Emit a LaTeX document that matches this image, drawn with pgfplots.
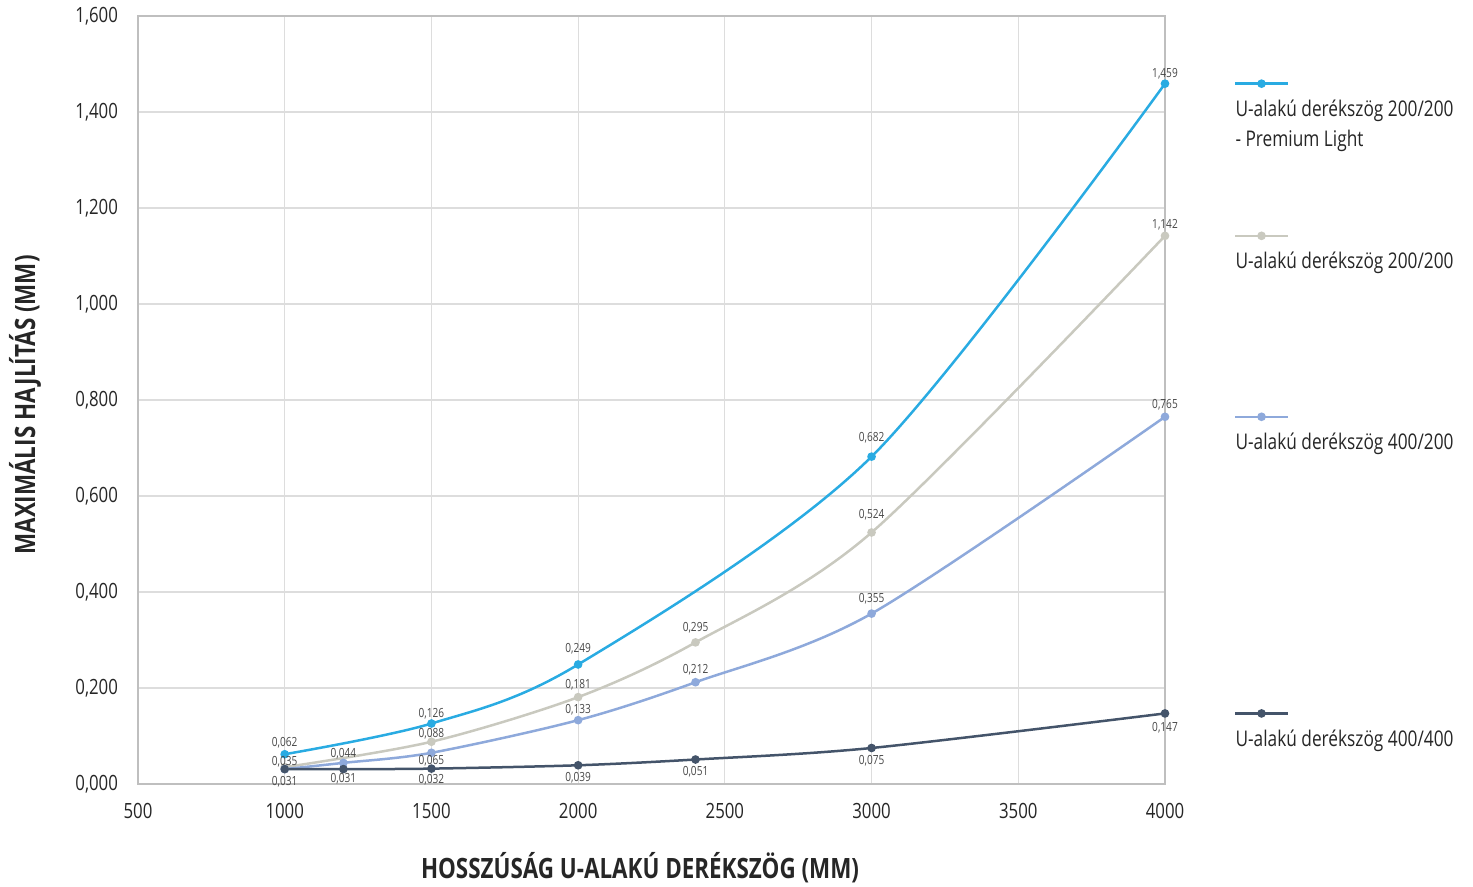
\documentclass[border=0pt]{standalone}
\usepackage{fontspec}
\setmainfont{Open Sans}[FakeStretch=0.8]
\usepackage{pgfplots}
\pgfplotsset{compat=1.18}
\definecolor{cA}{HTML}{29ABE2}
\definecolor{cB}{HTML}{C9C9BF}
\definecolor{cC}{HTML}{8EA9DB}
\definecolor{cD}{HTML}{44546A}
\definecolor{gridc}{HTML}{DDDDDD}
\definecolor{txt}{HTML}{262626}

\pgfplotsset{
  series/.style={
    color=#1, smooth, line width=1.25pt, mark=*, mark size=1.5pt,
    mark options={solid, fill=#1},
    nodes near coords,
    point meta=explicit symbolic,
    visualization depends on={value \thisrow{dy}\as\mydy},
    every node near coord/.append style={font=\fontsize{6.3}{7}\selectfont, text=txt!85, anchor=center, yshift=\mydy pt, inner sep=0pt},
  },
  legline/.style={color=#1, line width=1.25pt, mark=*, mark size=1.5pt, mark options={solid, fill=#1}, mark indices={2}, forget plot},
}

\begin{document}
\begin{tikzpicture}
\useasboundingbox (-69pt,-51.5pt) rectangle (667.5pt,392pt);
\begin{axis}[
  at={(0,0)}, anchor=south west,
  scale only axis, width=513.5pt, height=384pt,
  xmin=500, xmax=4000, ymin=0, ymax=1.6,
  xtick={500,1000,1500,2000,2500,3000,3500,4000},
  ytick={0,0.2,0.4,0.6,0.8,1.0,1.2,1.4,1.6},
  grid=major, major grid style={gridc, line width=0.6pt},
  axis line style={black!25, line width=0.7pt},
  major tick length=0pt,
  clip=false,
  tick label style={font=\fontsize{10.5}{12}\selectfont, text=txt},
  yticklabel style={/pgf/number format/fixed, /pgf/number format/fixed zerofill, /pgf/number format/precision=3, /pgf/number format/use comma, /pgf/number format/assume math mode=true, xshift=-6.5pt},
  xticklabel style={/pgf/number format/1000 sep={}, /pgf/number format/assume math mode=true, yshift=-6pt},
  every axis y label/.style={at={(axis description cs:-0.110,0.4935)}, rotate=90, anchor=center, font=\bfseries\fontsize{14}{16}\selectfont, text=txt},
  every axis x label/.style={at={(axis description cs:0.4888,-0.109)}, anchor=center, font=\bfseries\fontsize{14}{16}\selectfont, text=txt},
  xlabel={HOSSZÚSÁG U-ALAKÚ DERÉKSZÖG (MM)},
  ylabel={MAXIMÁLIS HAJLÍTÁS (MM)},
]
\addplot[series=cA] table[x=x, y=y, meta=lab] {
x y dy lab
1000 0.062 5.5 0,062
1500 0.126 5 0,126
2000 0.249 8 0,249
3000 0.682 9.5 0,682
4000 1.459 5 1,459
};
\addplot[series=cB] table[x=x, y=y, meta=lab] {
x y dy lab
1000 0.035 2.5 0,035
1500 0.088 4 0,088
2000 0.181 6 0,181
2400 0.295 7.5 0,295
3000 0.524 9 0,524
4000 1.142 5.5 1,142
};
\addplot[series=cC] table[x=x, y=y, meta=lab] {
x y dy lab
1000 0.031 0 {}
1200 0.044 4.5 0,044
1500 0.065 -4 0,065
2000 0.133 5 0,133
2400 0.212 6 0,212
3000 0.355 7.5 0,355
4000 0.765 6 0,765
};
\addplot[series=cD] table[x=x, y=y, meta=lab] {
x y dy lab
1000 0.031 -6.5 0,031
1200 0.031 -5 0,031
1500 0.032 -5.5 0,032
2000 0.039 -6 0,039
2400 0.051 -6 0,051
3000 0.075 -6.5 0,075
4000 0.147 -7 0,147
};

\addplot[legline=cA] coordinates {(4239,1.459) (4329,1.459) (4419,1.459)};
\addplot[legline=cB] coordinates {(4239,1.142) (4329,1.142) (4419,1.142)};
\addplot[legline=cC] coordinates {(4239,0.765) (4329,0.765) (4419,0.765)};
\addplot[legline=cD] coordinates {(4239,0.147) (4329,0.147) (4419,0.147)};

\tikzset{legtxt/.style={anchor=base west, inner sep=0pt, font=\fontsize{10.8}{12}\selectfont, text=txt}}
\node[legtxt, yshift=-16.5pt] at (axis cs:4239,1.459) {U-alakú derékszög 200/200};
\node[legtxt, yshift=-31.5pt] at (axis cs:4239,1.459) {- Premium Light};
\node[legtxt, yshift=-16.5pt] at (axis cs:4239,1.142) {U-alakú derékszög 200/200};
\node[legtxt, yshift=-16.5pt] at (axis cs:4239,0.765) {U-alakú derékszög 400/200};
\node[legtxt, yshift=-16.5pt] at (axis cs:4239,0.147) {U-alakú derékszög 400/400};
\end{axis}
\end{tikzpicture}
\end{document}
